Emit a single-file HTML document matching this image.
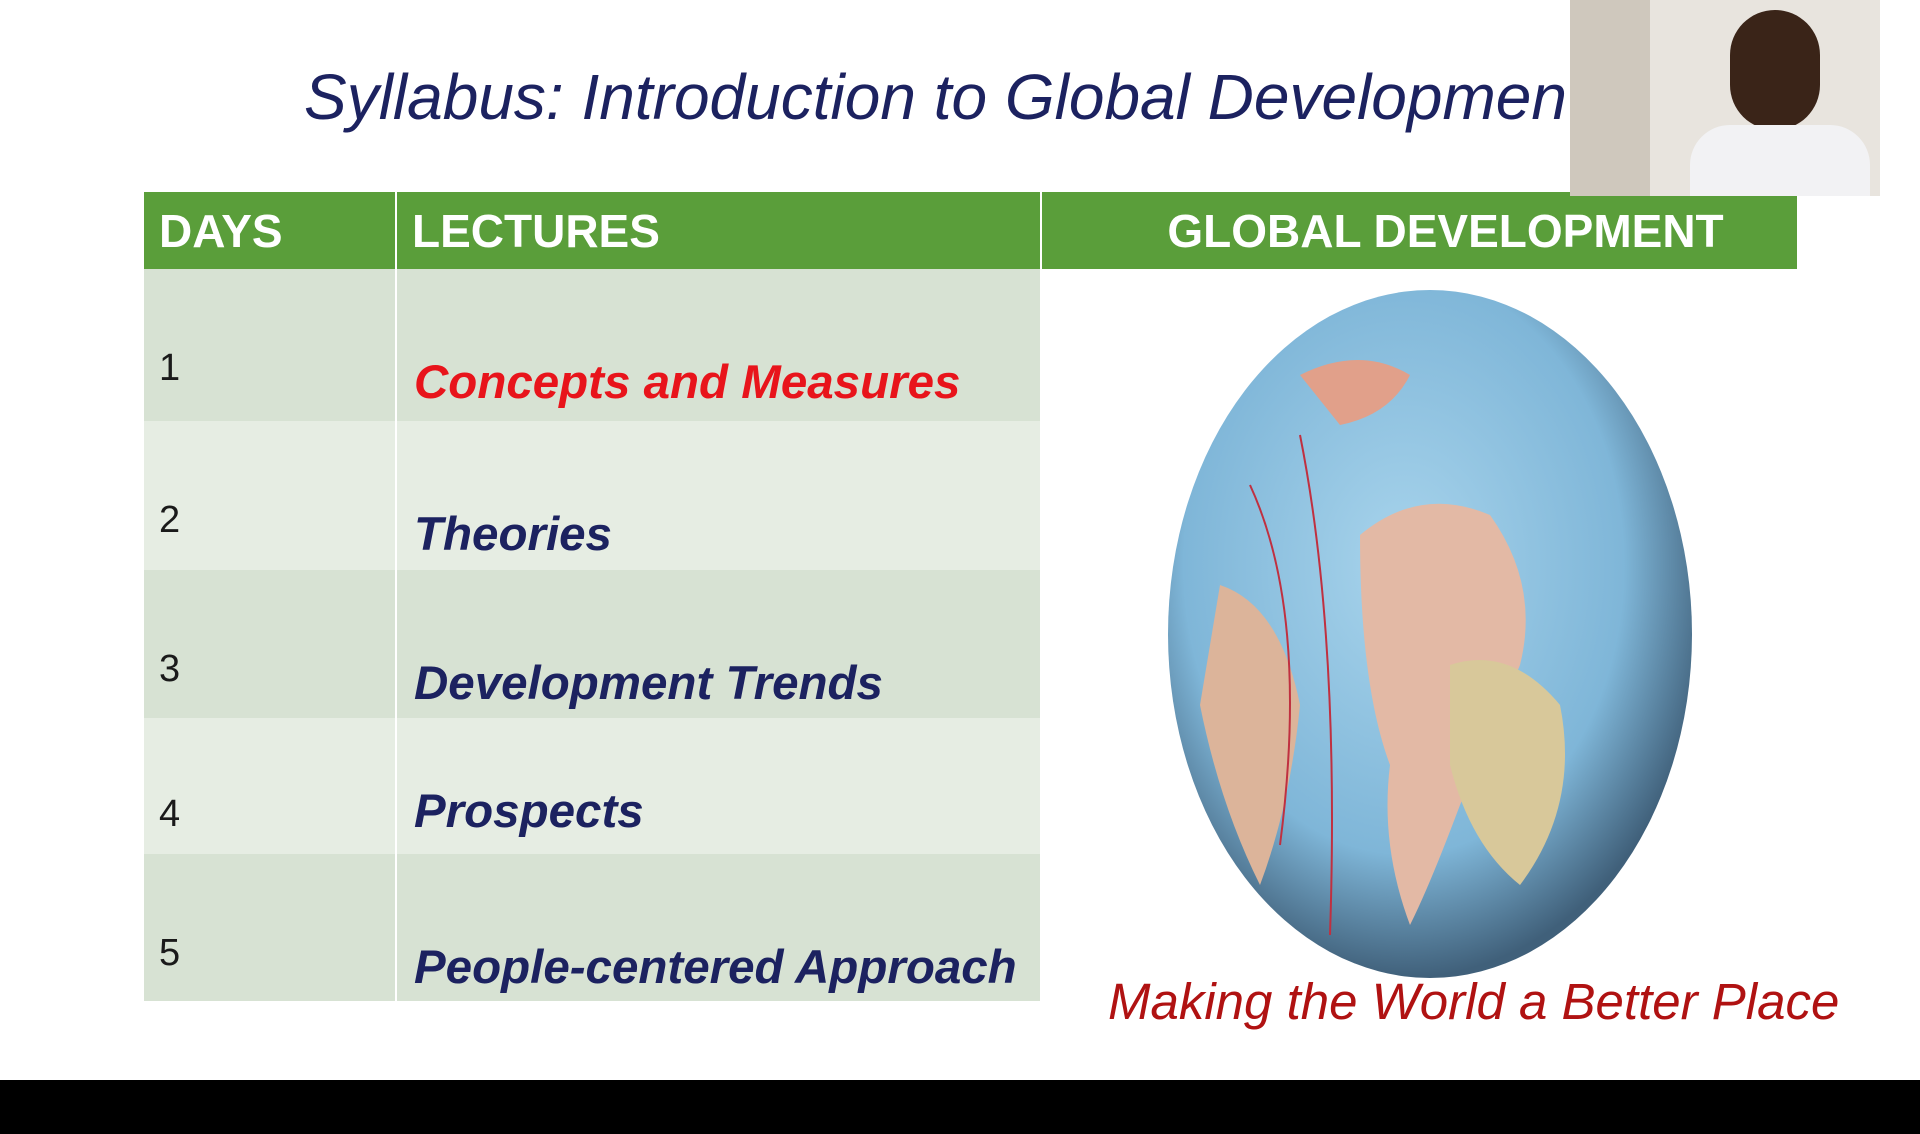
<!DOCTYPE html>
<html><head><meta charset="utf-8">
<style>
html,body{margin:0;padding:0;width:1920px;height:1134px;overflow:hidden;background:#fff;font-family:"Liberation Sans","DejaVu Sans",sans-serif;}
#title{position:absolute;left:304px;top:60px;font-size:64px;font-style:italic;color:#1c2260;white-space:nowrap;}
table{position:absolute;left:144px;top:192px;border-collapse:collapse;}
td,th{padding:0;border-right:2px solid #fff;}
th{background:#5a9e3a;color:#fff;font-size:46px;font-weight:bold;text-align:left;height:77px;padding-left:15px;}
.r1 td{background:#d7e2d3}.r2 td{background:#e6ede3}
.num{font-size:38px;color:#1a1a1a;padding-left:15px;vertical-align:top;padding-top:78px;}
.lec{font-size:47.5px;font-weight:bold;font-style:italic;color:#1c2260;padding-left:17px;vertical-align:top;padding-top:86px;}
#caption{position:absolute;left:1108px;top:972px;font-size:51px;font-style:italic;color:#b01212;white-space:nowrap;}
#band{position:absolute;left:0;top:1080px;width:1920px;height:54px;background:#000;}
#cam{position:absolute;left:1570px;top:0;width:310px;height:196px;background:#e8e4de;overflow:hidden;}
</style></head><body>
<div id="title">Syllabus: Introduction to Global Developmen</div>
<table>
<tr>
<th style="width:236px">DAYS</th>
<th style="width:628px">LECTURES</th>
<th style="width:703px;text-align:center;padding-left:52px">GLOBAL DEVELOPMENT</th></tr>
<tr class="r1" style="height:152px"><td class="num">1</td><td class="lec" style="color:#e8141b">Concepts and Measures</td><td rowspan="5" style="background:#fff"></td></tr>
<tr class="r2" style="height:149px"><td class="num">2</td><td class="lec">Theories</td></tr>
<tr class="r1" style="height:148px"><td class="num">3</td><td class="lec">Development Trends</td></tr>
<tr class="r2" style="height:136px"><td class="num" style="padding-top:75px">4</td><td class="lec" style="padding-top:66px">Prospects</td></tr>
<tr class="r1" style="height:147px"><td class="num">5</td><td class="lec">People-centered Approach</td></tr>
</table>
<svg style="position:absolute;left:1160px;top:285px" width="540" height="700">
<defs><radialGradient id="g" cx="45%" cy="40%" r="60%"><stop offset="0" stop-color="#a8d4ec"/><stop offset="0.7" stop-color="#7fb6d8"/><stop offset="1" stop-color="#40607a"/></radialGradient></defs>
<ellipse cx="270" cy="349" rx="262" ry="344" fill="url(#g)"/>
<path d="M200 250 Q260 200 330 230 Q380 300 360 380 Q330 450 300 520 Q270 600 250 640 Q220 560 230 480 Q200 400 200 250Z" fill="#e3b9a5"/>
<path d="M60 300 Q120 320 140 420 Q130 520 100 600 Q60 520 40 420Z" fill="#dcb49a"/>
<path d="M290 380 Q350 360 400 420 Q420 520 360 600 Q310 560 290 480Z" fill="#d8c89a"/>
<path d="M140 90 Q200 60 250 90 Q230 130 180 140Z" fill="#e1a08a"/>
<g stroke="#c03040" stroke-width="2" fill="none"><path d="M140 150 Q180 350 170 650"/><path d="M90 200 Q150 330 120 560"/></g>
</svg>
<div id="caption">Making the World a Better Place</div>
<div id="cam">
<div style="position:absolute;left:0;top:0;width:80px;height:196px;background:#cfc8bd"></div>
<div style="position:absolute;left:160px;top:10px;width:90px;height:120px;border-radius:45px;background:#3a2418"></div>
<div style="position:absolute;left:120px;top:125px;width:180px;height:80px;border-radius:40px 40px 0 0;background:#f2f2f4"></div>
</div>
<div id="band"></div>
</body></html>
